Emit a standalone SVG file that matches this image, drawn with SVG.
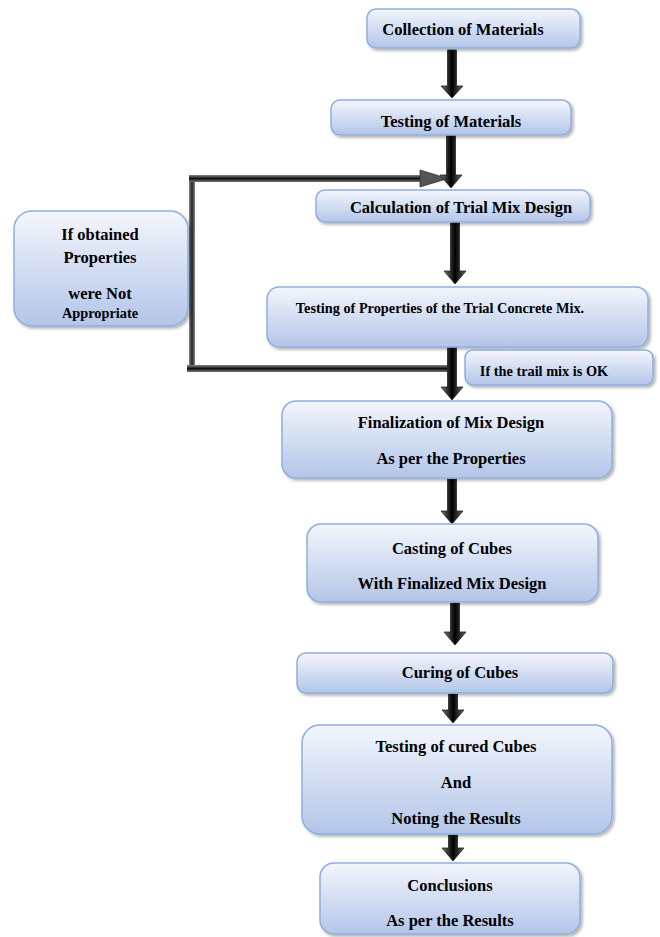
<svg xmlns="http://www.w3.org/2000/svg" width="660" height="937" viewBox="0 0 660 937">
<defs>
  <linearGradient id="boxg" x1="0" y1="0" x2="0" y2="1">
    <stop offset="0" stop-color="#f3f6fc"/>
    <stop offset="1" stop-color="#b3c5e8"/>
  </linearGradient>
  <linearGradient id="arrg" x1="0" y1="0" x2="1" y2="0">
    <stop offset="0" stop-color="#777"/>
    <stop offset="0.5" stop-color="#000"/>
    <stop offset="1" stop-color="#666"/>
  </linearGradient>
  <linearGradient id="lineh" x1="0" y1="0" x2="0" y2="1">
    <stop offset="0" stop-color="#888"/>
    <stop offset="0.5" stop-color="#111"/>
    <stop offset="1" stop-color="#777"/>
  </linearGradient>
  <linearGradient id="linev" x1="0" y1="0" x2="1" y2="0">
    <stop offset="0" stop-color="#888"/>
    <stop offset="0.5" stop-color="#222"/>
    <stop offset="1" stop-color="#888"/>
  </linearGradient>
  <filter id="sh" x="-10%" y="-20%" width="120%" height="150%">
    <feDropShadow dx="2" dy="2" stdDeviation="1.5" flood-color="#000" flood-opacity="0.3"/>
  </filter>
</defs>
<style>
  .box { fill: url(#boxg); stroke: #8eaee0; stroke-width: 1.5; filter: url(#sh); }
  .t { font-family: "Liberation Serif", "Times New Roman", serif; font-weight: bold; font-size: 16.5px; fill: #000; text-anchor: middle; }
  .s { font-size: 14.3px; }
  .arr { fill: url(#arrg); stroke: #222; stroke-width: 0.8; }
</style>

<g id="connectors">
  <!-- feedback loop -->
  <rect x="189" y="176" width="6" height="196" fill="url(#linev)"/>
  <rect x="189" y="175" width="235" height="7" fill="url(#lineh)"/>
  <path d="M420 170 L448 178.5 L420 187 Z" fill="#555" stroke="#333" stroke-width="0.8"/>
  <rect x="187" y="365" width="262" height="7" fill="url(#lineh)"/>
  <!-- block arrows -->
  <path class="arr" d="M447.5 50 L456.5 50 L456.5 86 L463 86 L452 98 L441 86 L447.5 86 Z"/>
  <path class="arr" d="M446.5 135 L455.5 135 L455.5 175 L462 175 L451 188 L440 175 L446.5 175 Z"/>
  <path class="arr" d="M450.5 222 L459.5 222 L459.5 271 L466 271 L455 284 L444 271 L450.5 271 Z"/>
  <path class="arr" d="M447.5 347 L456.5 347 L456.5 387 L463 387 L452 400 L441 387 L447.5 387 Z"/>
  <path class="arr" d="M447.5 479 L456.5 479 L456.5 511 L463 511 L452 524 L441 511 L447.5 511 Z"/>
  <path class="arr" d="M450.5 603 L459.5 603 L459.5 632 L466 632 L455 645 L444 632 L450.5 632 Z"/>
  <path class="arr" d="M448.5 694 L457.5 694 L457.5 710 L464 710 L453 723 L442 710 L448.5 710 Z"/>
  <path class="arr" d="M448.5 835 L457.5 835 L457.5 848 L464 848 L453 861 L442 848 L448.5 848 Z"/>
</g>

<g id="n1">
  <rect class="box" x="367" y="9" width="213" height="39" rx="9"/>
  <text class="t" x="463" y="35">Collection of Materials</text>
</g>
<g id="n2">
  <rect class="box" x="331" y="100" width="240" height="35" rx="9"/>
  <text class="t" x="451" y="127">Testing of Materials</text>
</g>
<g id="n3">
  <rect class="box" x="316" y="190" width="274" height="32" rx="9"/>
  <text class="t" x="461" y="213">Calculation of Trial Mix Design</text>
</g>
<g id="n4">
  <rect class="box" x="267" y="287" width="381" height="60" rx="12"/>
  <text class="t s" x="440" y="313">Testing of Properties of the Trial Concrete Mix.</text>
</g>
<g id="n5">
  <rect class="box" x="465" y="350" width="188" height="35" rx="8"/>
  <text class="t s" x="544" y="376">If the trail mix is OK</text>
</g>
<g id="n6">
  <rect class="box" x="14" y="211" width="174" height="115" rx="18"/>
  <text class="t" x="100" y="240">If obtained</text>
  <text class="t" x="100" y="263">Properties</text>
  <text class="t" x="100" y="299">were Not</text>
  <text class="t s" x="100" y="318">Appropriate</text>
</g>
<g id="n7">
  <rect class="box" x="282" y="401" width="330" height="77" rx="14"/>
  <text class="t" x="451" y="428">Finalization of Mix Design</text>
  <text class="t" x="451" y="464">As per the Properties</text>
</g>
<g id="n8">
  <rect class="box" x="307" y="524" width="291" height="78" rx="14"/>
  <text class="t" x="452" y="554">Casting of Cubes</text>
  <text class="t" x="452" y="589">With Finalized Mix Design</text>
</g>
<g id="n9">
  <rect class="box" x="297" y="653" width="316" height="40" rx="9"/>
  <text class="t" x="460" y="678">Curing of Cubes</text>
</g>
<g id="n10">
  <rect class="box" x="302" y="725" width="310" height="109" rx="18"/>
  <text class="t" x="456" y="752">Testing of cured Cubes</text>
  <text class="t" x="456" y="788">And</text>
  <text class="t" x="456" y="824">Noting the Results</text>
</g>
<g id="n11">
  <rect class="box" x="320" y="863" width="260" height="71" rx="14"/>
  <text class="t" x="450" y="891">Conclusions</text>
  <text class="t" x="450" y="926">As per the Results</text>
</g>
</svg>
